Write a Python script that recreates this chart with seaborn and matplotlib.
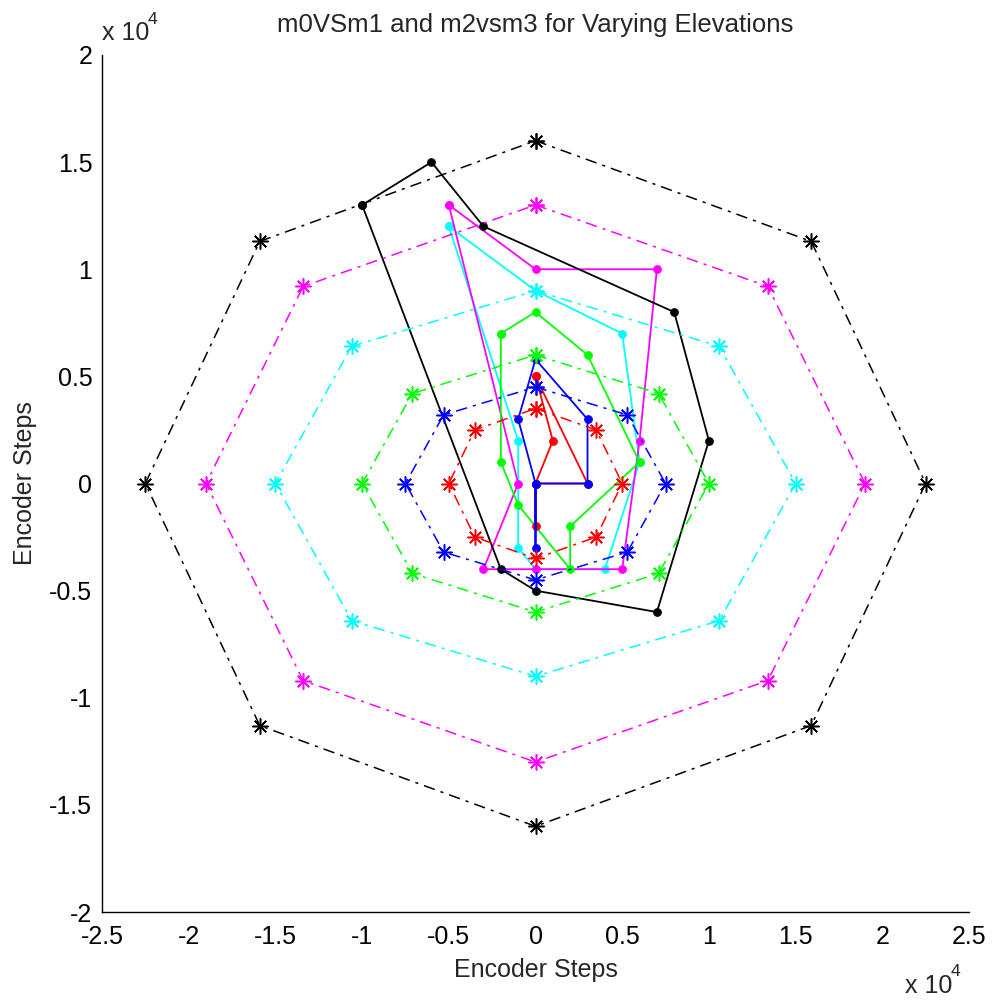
import matplotlib
matplotlib.use("Agg")
import matplotlib.pyplot as plt
import seaborn as sns
from matplotlib.ticker import FuncFormatter

# Measured outlines (encoder steps), one per elevation, drawn solid with dots
black_x = [-10000, -6000, -3000, 8000, 10000, 7000, 0, -2000, -10000]
black_y = [13000, 15000, 12000, 8000, 2000, -6000, -5000, -4000, 13000]
magenta_x = [-5000, 0, 7000, 6000, 5000, 0, -3000, -1000, -5000]
magenta_y = [13000, 10000, 10000, 2000, -4000, -4000, -4000, 0, 13000]
cyan_x = [-5000, 0, 5000, 6000, 4000, 0, -1000, -1000, -5000]
cyan_y = [12000, 9000, 7000, 1000, -4000, -4000, -3000, 2000, 12000]
green_x = [-2000, 0, 3000, 6000, 2000, 2000, -1000, -2000, -2000]
green_y = [7000, 8000, 6000, 1000, -2000, -4000, -1000, 1000, 7000]
red_x = [0, 3000, 0, 0, 0, 1000, 0]
red_y = [5000, 0, 0, -2000, 0, 2000, 5000]
blue_x = [0, 3000, 3000, 0, 0, 0, -1000, 0]
blue_y = [5800, 3000, 0, 0, -3000, 0, 3000, 5800]

# Reference octagons (encoder steps), drawn dash-dot with asterisks
oct_black_x = [0, 15900, 22500, 15900, 0, -15900, -22500, -15900, 0]
oct_black_y = [16000, 11300, 0, -11300, -16000, -11300, 0, 11300, 16000]
oct_magenta_x = [0, 13400, 19000, 13400, 0, -13400, -19000, -13400, 0]
oct_magenta_y = [13000, 9200, 0, -9200, -13000, -9200, 0, 9200, 13000]
oct_cyan_x = [0, 10600, 15000, 10600, 0, -10600, -15000, -10600, 0]
oct_cyan_y = [9000, 6400, 0, -6400, -9000, -6400, 0, 6400, 9000]
oct_green_x = [0, 7100, 10000, 7100, 0, -7100, -10000, -7100, 0]
oct_green_y = [6000, 4200, 0, -4200, -6000, -4200, 0, 4200, 6000]
oct_blue_x = [0, 5300, 7500, 5300, 0, -5300, -7500, -5300, 0]
oct_blue_y = [4500, 3200, 0, -3200, -4500, -3200, 0, 3200, 4500]
oct_red_x = [0, 3500, 5000, 3500, 0, -3500, -5000, -3500, 0]
oct_red_y = [3500, 2500, 0, -2500, -3500, -2500, 0, 2500, 3500]

x_ticks = [-25000, -20000, -15000, -10000, -5000, 0, 5000, 10000, 15000, 20000, 25000]
y_ticks = [-20000, -15000, -10000, -5000, 0, 5000, 10000, 15000, 20000]

title = "m0VSm1 and m2vsm3 for Varying Elevations"
axis_label = "Encoder Steps"

sns.set_style("white")
FONT = ["Liberation Sans", "DejaVu Sans"]
plt.rcParams["font.family"] = FONT
FS = 18

fig = plt.figure(figsize=(9.92, 10.02), dpi=100)
W, H = 992, 1002
left, right, top, bottom = 102, 969, 55, 912
ax = fig.add_axes([left / W, 1 - bottom / H, (right - left) / W, (bottom - top) / H])

MAGENTA = (1, 0, 1)
CYAN = (0, 1, 1)
GREEN = (0, 1, 0)
BLUE = (0, 0, 1)
RED = (1, 0, 0)
BLACK = (0, 0, 0)

solid = [
    (cyan_x, cyan_y, CYAN),
    (magenta_x, magenta_y, MAGENTA),
    (black_x, black_y, BLACK),
    (green_x, green_y, GREEN),
    (red_x, red_y, RED),
    (blue_x, blue_y, BLUE),
]
for xs, ys, c in solid:
    sns.lineplot(x=xs, y=ys, sort=False, estimator=None, ax=ax, color=c,
                 linewidth=1.3, marker="o", markersize=5.5,
                 markerfacecolor=c, markeredgecolor=c)

octs = [
    (oct_black_x, oct_black_y, BLACK),
    (oct_magenta_x, oct_magenta_y, MAGENTA),
    (oct_cyan_x, oct_cyan_y, CYAN),
    (oct_green_x, oct_green_y, GREEN),
    (oct_blue_x, oct_blue_y, BLUE),
    (oct_red_x, oct_red_y, RED),
]
for xs, ys, c in octs:
    sns.lineplot(x=xs, y=ys, sort=False, estimator=None, ax=ax, color=c,
                 linewidth=1.1, linestyle=(0, (7.5, 4, 2, 4)),
                 marker=(8, 2, 0), markersize=11.5, markeredgewidth=1.1,
                 markeredgecolor=c)

ax.set_xlim(-25000, 25000)
ax.set_ylim(-20000, 20000)
ax.set_xticks(x_ticks)
ax.set_yticks(y_ticks)
fmt = FuncFormatter(lambda v, p: f"{v / 1e4:g}")
ax.xaxis.set_major_formatter(fmt)
ax.yaxis.set_major_formatter(fmt)
ax.tick_params(direction="in", length=6, width=1.0, labelsize=FS,
               colors="black", pad=7)
ax.tick_params(axis="x", pad=9)
sns.despine(ax=ax)
for s in ("left", "bottom"):
    ax.spines[s].set_color("black")
    ax.spines[s].set_linewidth(1.0)

ax.set_xlabel("")
ax.set_ylabel("")
fig.text((left + right) / 2 / W, 1 - 970 / H, axis_label, ha="center",
         va="center", fontsize=FS)
fig.text(25 / W, 1 - 483 / H, axis_label, ha="center", va="center",
         rotation=90, fontsize=FS)
fig.text((left + right) / 2 / W, 1 - 25 / H, title, ha="center",
         va="center", fontsize=FS + 0.5)

# exponent notes for both axes
fig.text(102 / W, 1 - 33 / H, "x 10", ha="left", va="center", fontsize=FS)
fig.text(148 / W, 1 - 20 / H, "4", ha="left", va="center", fontsize=FS * 0.7)
fig.text(905 / W, 1 - 986 / H, "x 10", ha="left", va="center", fontsize=FS)
fig.text(951 / W, 1 - 972 / H, "4", ha="left", va="center", fontsize=FS * 0.7)

fig.savefig("out.png", dpi=100, facecolor="white")
